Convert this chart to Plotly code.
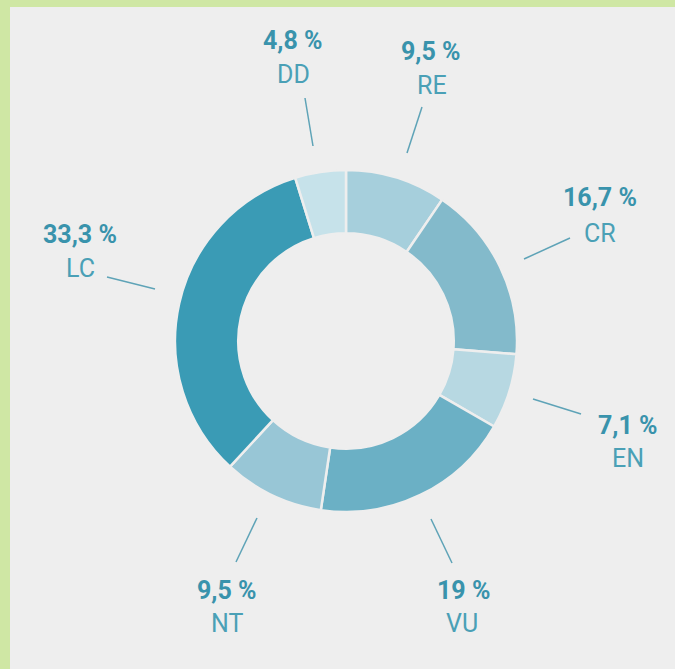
import plotly.graph_objects as go

# ---- data ----
categories = ["RE", "CR", "EN", "VU", "NT", "LC", "DD"]
shares = [9.5, 16.7, 7.1, 19, 9.5, 33.3, 4.8]
slice_colors = ["#a6cfdc", "#83bacb", "#b7d8e2", "#6bb0c5", "#98c6d6", "#3a9bb5", "#c6e2ea"]

W, H = 675, 669
BG = "#eeeeee"
GREEN = "#cfe7a4"

def px(x, y):
    return x / W, 1 - y / H

# layout positions (pixels): percent label centre, name centre, leader line
label_pos = {
    "RE": ((431, 51), (432, 85), ((422, 107), (407, 153))),
    "CR": ((600, 198), (600, 233), ((570, 238), (524, 259))),
    "EN": ((628, 425), (628, 458), ((533, 399), (581, 414))),
    "VU": ((463, 590), (462, 623), ((431, 519), (452, 563))),
    "NT": ((227, 590), (227, 623), ((257, 518), (236, 562))),
    "LC": ((80, 235), (80, 268), ((107, 277), (155, 289))),
    "DD": ((293, 40), (293, 74), ((305, 98), (313, 146))),
}

cx, cy, r = 346, 341, 171
x0, y1 = px(cx - r, cy - r)
x1, y0 = px(cx + r, cy + r)

fig = go.Figure(go.Pie(
    labels=categories,
    values=shares,
    sort=False,
    direction="clockwise",
    rotation=0,
    hole=0.63,
    textinfo="none",
    hoverinfo="label+percent",
    marker=dict(colors=slice_colors, line=dict(color=BG, width=2.5)),
    domain=dict(x=[x0, x1], y=[y0, y1]),
    showlegend=False,
))

annotations = []
shapes = [
    dict(type="rect", xref="paper", yref="paper", x0=0, x1=1, y0=1 - 7 / H, y1=1,
         fillcolor=GREEN, line=dict(width=0), layer="below"),
    dict(type="rect", xref="paper", yref="paper", x0=0, x1=10 / W, y0=0, y1=1,
         fillcolor=GREEN, line=dict(width=0), layer="below"),
]

for cat, val in zip(categories, shares):
    (pxy, nxy, (la, lb)) = label_pos[cat]
    pct = f"{val:g}".replace(".", ",") + " %"
    ax, ay = px(*pxy)
    annotations.append(dict(text=f"<b>{pct}</b>", x=ax, y=ay, xref="paper", yref="paper",
                            showarrow=False, xanchor="center", yanchor="middle",
                            font=dict(family="Roboto", size=25, color="#3993ac")))
    bx, by = px(*nxy)
    annotations.append(dict(text=cat, x=bx, y=by, xref="paper", yref="paper",
                            showarrow=False, xanchor="center", yanchor="middle",
                            font=dict(family="Roboto", size=25, color="#4aa0b6")))
    lx0, ly0 = px(*la)
    lx1, ly1 = px(*lb)
    shapes.append(dict(type="line", xref="paper", yref="paper", x0=lx0, y0=ly0, x1=lx1, y1=ly1,
                       line=dict(color="#5ea3b7", width=1.5)))

fig.update_layout(
    width=W, height=H,
    margin=dict(l=0, r=0, t=0, b=0),
    paper_bgcolor=BG,
    plot_bgcolor=BG,
    annotations=annotations,
    shapes=shapes,
)

fig.write_html("out.html", config={"displayModeBar": False},
               post_script="document.body.style.margin='0';document.body.style.overflow='hidden';")
